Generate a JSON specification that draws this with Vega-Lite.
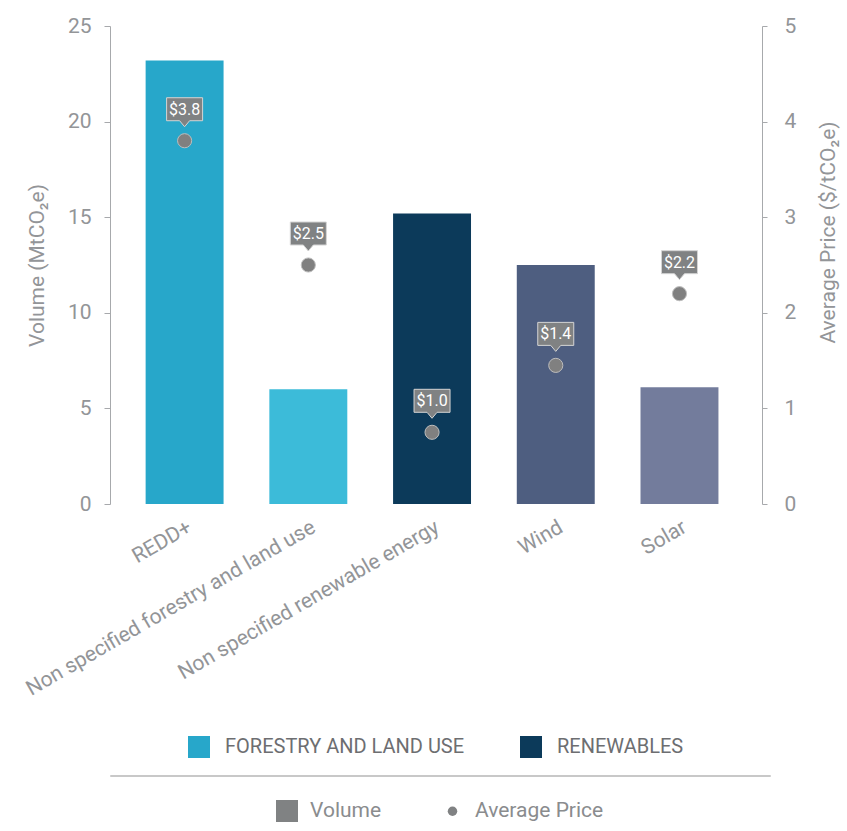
{
  "$schema": "https://vega.github.io/schema/vega-lite/v6.json",
  "background": "white",
  "padding": {"left": 22, "top": 15, "right": 5, "bottom": 5},
  "spacing": 6,
  "resolve": {"legend": {"color": "independent", "shape": "independent", "size": "independent"}},
  "config": {
    "font": "Roboto, sans-serif",
    "view": {"stroke": null},
    "legend": {"layout": {"anchor": "middle"}},
    "axis": {
      "labelColor": "#939598",
      "titleColor": "#939598",
      "domainColor": "#a7a9ac",
      "tickColor": "#a7a9ac",
      "grid": false,
      "titleFontWeight": "normal"
    }
  },
  "vconcat": [
    {
      "width": 652,
      "height": 478,
      "view": {"stroke": null},
      "data": {
        "values": [
          {"name": "REDD+", "group": "FORESTRY AND LAND USE", "volume": 23.2, "price": 3.8, "label": "$3.8"},
          {"name": "Non specified forestry and land use", "group": "FORESTRY AND LAND USE", "volume": 6.0, "price": 2.5, "label": "$2.5"},
          {"name": "Non specified renewable energy", "group": "RENEWABLES", "volume": 15.2, "price": 0.75, "label": "$1.0"},
          {"name": "Wind", "group": "RENEWABLES", "volume": 12.5, "price": 1.45, "label": "$1.4"},
          {"name": "Solar", "group": "RENEWABLES", "volume": 6.1, "price": 2.2, "label": "$2.2"}
        ]
      },
      "encoding": {
        "x": {
          "field": "name",
          "type": "nominal",
          "sort": null,
          "scale": {"paddingInner": 0.37, "paddingOuter": 0.32, "align": 0.45},
          "axis": {
            "title": null,
            "domain": false,
            "ticks": false,
            "labelAngle": -30,
            "labelPadding": 12,
            "labelFontSize": 21,
            "labelLimit": 500
          }
        }
      },
      "layer": [
        {
          "encoding": {
            "y": {
              "field": "volume",
              "type": "quantitative",
              "scale": {"domain": [0, 25], "nice": false},
              "axis": {
                "orient": "left",
                "title": "Volume (MtCO₂e)",
                "values": [0, 5, 10, 15, 20, 25],
                "labelFontSize": 21,
                "titleFontSize": 21,
                "tickSize": 6,
                "labelPadding": 13,
                "titlePadding": 20
              }
            }
          },
          "layer": [
            {
              "mark": {"type": "bar", "opacity": 0},
              "encoding": {
                "color": {
                  "field": "group",
                  "type": "nominal",
                  "scale": {"domain": ["FORESTRY AND LAND USE", "RENEWABLES"], "range": ["#27a7ca", "#0c3a5a"]},
                  "legend": {
                    "title": null,
                    "orient": "bottom",
                    "direction": "horizontal",
                    "symbolType": "square",
                    "symbolSize": 484,
                    "symbolOpacity": 1,
                    "symbolStrokeWidth": 0,
                    "labelFontSize": 20,
                    "labelColor": "#6d6e71",
                    "labelOffset": 15,
                    "labelLimit": 500,
                    "columnPadding": 55,
                    "offset": 36
                  }
                }
              }
            },
            {
              "mark": {"type": "bar"},
              "encoding": {
                "fill": {
                  "field": "name",
                  "type": "nominal",
                  "scale": {
                    "domain": ["REDD+", "Non specified forestry and land use", "Non specified renewable energy", "Wind", "Solar"],
                    "range": ["#27a7ca", "#3cbbd9", "#0c3a5a", "#4e5e80", "#737c9c"]
                  },
                  "legend": null
                }
              }
            }
          ]
        },
        {
          "encoding": {
            "y": {
              "field": "price",
              "type": "quantitative",
              "scale": {"domain": [0, 5], "nice": false},
              "axis": {
                "orient": "right",
                "title": "Average Price ($/tCO₂e)",
                "values": [0, 1, 2, 3, 4, 5],
                "labelFontSize": 21,
                "titleFontSize": 21,
                "tickSize": 5,
                "labelPadding": 17,
                "titlePadding": 22,
                "titleAngle": 270,
                "titleBaseline": "top",
                "titleY": 206
              }
            }
          },
          "layer": [
            {
              "mark": {"type": "point", "filled": true, "size": 200, "fill": "#808080", "stroke": "#bdbdbd", "strokeWidth": 1, "opacity": 1}
            },
            {
              "mark": {"type": "point", "shape": "M-18,-43H18V-20H5L0,-14L-5,-20H-18Z", "size": 4, "filled": true, "fill": "#808283", "stroke": "#d4d4d4", "strokeWidth": 1, "opacity": 1}
            },
            {
              "mark": {"type": "text", "dy": -31, "color": "white", "fontSize": 16, "baseline": "middle", "align": "center"},
              "encoding": {"text": {"field": "label"}}
            }
          ]
        }
      ],
      "resolve": {"scale": {"y": "independent"}}
    },
    {
      "width": 660,
      "height": 1,
      "view": {"stroke": "#c8c8c8", "strokeWidth": 1},
      "data": {"values": [{"series": "Volume"}, {"series": "Average Price"}]},
      "mark": {"type": "point", "filled": true, "opacity": 0, "color": "#808283"},
      "encoding": {
        "shape": {
          "field": "series",
          "type": "nominal",
          "sort": null,
          "scale": {"domain": ["Volume", "Average Price"], "range": ["square", "circle"]},
          "legend": {
            "title": null,
            "orient": "bottom",
            "direction": "horizontal",
            "symbolOpacity": 1,
            "symbolStrokeWidth": 0,
            "labelFontSize": 21,
            "labelColor": "#8a8c8e",
            "labelOffset": 12,
            "columnPadding": 60,
            "offset": 24
          }
        },
        "size": {
          "field": "series",
          "type": "nominal",
          "sort": null,
          "scale": {"domain": ["Volume", "Average Price"], "range": [484, 90]},
          "legend": {
            "title": null,
            "orient": "bottom",
            "direction": "horizontal",
            "symbolOpacity": 1,
            "labelFontSize": 21,
            "labelColor": "#8a8c8e",
            "labelOffset": 12,
            "columnPadding": 60,
            "offset": 24
          }
        }
      }
    }
  ]
}
